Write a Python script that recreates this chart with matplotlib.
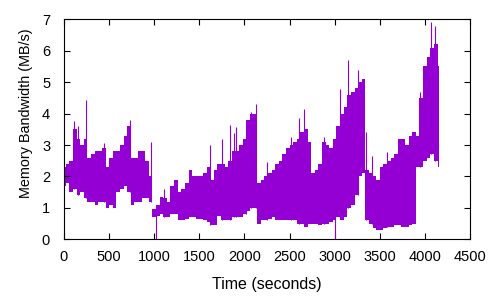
import matplotlib
matplotlib.use("Agg")
import matplotlib.pyplot as plt
import numpy as np

# Values, one pair per 40 s bin
time_s = np.arange(0, 4161, 40)
bw_lo = [1.7, 1.8, 1.5, 1.6, 1.4, 1.5, 1.3, 1.2, 1.2, 1.1,
         1.2, 1.2, 1.0, 1.1, 1.0, 1.5, 1.6, 1.7, 1.5, 1.1,
         1.2, 1.2, 1.3, 1.3, 1.2, 0.7, 0.75, 0.8, 0.7, 0.7,
         0.8, 0.8, 0.6, 0.6, 0.65, 0.7, 0.7, 0.65, 0.65, 0.6,
         0.55, 0.45, 0.45, 0.75, 0.6, 0.6, 0.6, 0.7, 0.7, 0.7,
         0.8, 0.9, 1.0, 1.0, 0.5, 0.6, 0.6, 0.65, 0.7, 0.6,
         0.6, 0.6, 0.6, 0.6, 0.6, 0.5, 0.5, 0.4, 0.5, 0.5,
         0.5, 0.45, 0.5, 0.5, 0.55, 0.6, 0.7, 0.6, 0.7, 1.0,
         1.1, 1.4, 2.0, 2.1, 0.6, 0.5, 0.35, 0.3, 0.3, 0.35,
         0.4, 0.4, 0.45, 0.45, 0.4, 0.4, 0.45, 0.5, 2.3, 2.3,
         2.5, 2.6, 2.7, 2.5, 2.3]
bw_hi = [2.3, 2.4, 2.5, 3.5, 3.2, 3.0, 3.2, 2.6, 2.7, 2.8,
         2.8, 2.9, 2.3, 2.6, 2.8, 2.8, 3.0, 3.3, 3.6, 2.6,
         2.6, 2.8, 2.8, 2.5, 2.0, 0.95, 1.1, 1.35, 1.3, 1.2,
         1.7, 1.9, 1.5, 1.6, 1.8, 2.2, 2.0, 2.0, 2.0, 2.1,
         2.3, 1.9, 2.2, 2.4, 2.4, 2.3, 2.5, 2.8, 2.8, 3.0,
         3.2, 3.8, 4.0, 4.0, 1.8, 1.9, 2.0, 2.1, 2.2, 2.4,
         2.5, 2.7, 2.9, 3.0, 3.1, 3.2, 3.4, 3.5, 3.1, 2.1,
         2.2, 2.4, 3.1, 3.0, 2.9, 3.2, 3.6, 4.0, 4.2, 4.6,
         4.7, 4.8, 5.0, 5.1, 2.2, 2.1, 2.0, 1.9, 2.3, 2.4,
         2.5, 2.6, 2.7, 3.2, 3.2, 3.0, 3.3, 3.4, 3.3, 4.5,
         5.5, 5.8, 6.1, 6.2, 5.5]

# Isolated spikes (time, peak) and dips (time, bottom)
spike_t = [110, 150, 245, 445, 730, 962, 1105, 1622, 1750, 1840, 1885,
           1908, 2015, 2070, 2130, 2245, 2520, 2600, 2655, 2880, 3055,
           3145, 3255, 3345, 3410, 3585, 3945, 4066, 4110]
spike_v = [3.76, 3.6, 4.43, 3.05, 3.8, 3.1, 1.6, 3.0, 3.2, 3.63, 3.37,
           3.58, 3.74, 4.06, 4.32, 2.46, 3.27, 3.85, 4.16, 3.27, 4.78,
           5.7, 5.38, 3.4, 2.66, 2.78, 4.7, 6.9, 6.78]
dip_t = [1020, 3000]
dip_v = [0.0, 0.0]

color = "#9400d3"

plt.rcParams["font.family"] = ["Liberation Sans", "DejaVu Sans"]
plt.rcParams["font.size"] = 10.5

fig = plt.figure(figsize=(5, 3), dpi=100)
ax = fig.add_axes([0.128, 0.2023, 0.812, 0.7334])

ax.fill_between(time_s, bw_lo, bw_hi, step="mid", color=color, linewidth=0)
ax.vlines(spike_t, [bw_lo[int(round(t / 40))] for t in spike_t], spike_v,
          color=color, linewidth=0.8)
ax.vlines(dip_t, dip_v, [bw_hi[int(round(t / 40))] for t in dip_t],
          color=color, linewidth=0.8)

ax.set_xlim(0, 4500)
ax.set_ylim(0, 7)
ax.set_xticks(np.arange(0, 4501, 500))
ax.set_yticks(np.arange(0, 8, 1))
ax.tick_params(direction="in", top=True, right=True, length=4, width=0.8,
               labelsize=10.5)
ax.tick_params(axis="x", pad=8)
ax.tick_params(axis="y", pad=10)
for s in ax.spines.values():
    s.set_linewidth(0.8)

ax.set_xlabel("Time (seconds)", fontsize=11.5, labelpad=9)
ax.set_ylabel("Memory Bandwidth (MB/s)", fontsize=10.4)
ax.yaxis.set_label_coords(-0.077, 0.574)

fig.savefig("out.png", dpi=100)
